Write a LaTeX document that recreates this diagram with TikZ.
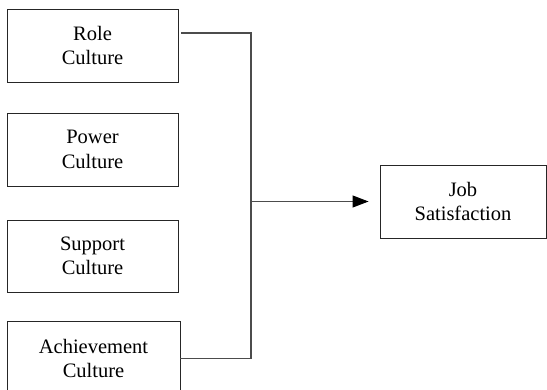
\documentclass[tikz,border=0pt]{standalone}
\usepackage{fontspec}
\setmainfont{Liberation Serif}
\usetikzlibrary{arrows.meta}
\begin{document}
\begin{tikzpicture}[x=1pt,y=-1pt,
  box/.style={draw=black!85, line width=0.9pt, rectangle, inner sep=0pt,
    align=center, font=\fontsize{20.5}{24.5}\selectfont},
  conn/.style={draw=black!70, line width=1.1pt}]
\useasboundingbox (0,0) rectangle (547,390);
\node[box, minimum width=171pt, minimum height=73pt] (role) at (92.5,45.5) {Role\\Culture};
\node[box, minimum width=171pt, minimum height=73pt] (power) at (92.5,149.5) {Power\\Culture};
\node[box, minimum width=171pt, minimum height=72pt] (support) at (92.5,256) {Support\\Culture};
\node[box, minimum width=173pt, minimum height=75pt] (ach) at (93.5,358.5) {Achievement\\Culture};
\node[box, minimum width=166pt, minimum height=73pt] (job) at (463,201.5) {Job\\Satisfaction};
\coordinate (j) at (251,201.5);
\draw[conn] ([xshift=3pt,yshift=12.5pt]role.east) -| (j) |- (ach.east);
\draw[conn, -{Triangle[length=16pt,width=12pt,color=black]}, shorten >=11pt] (j) -- (job.west);
\end{tikzpicture}
\end{document}
